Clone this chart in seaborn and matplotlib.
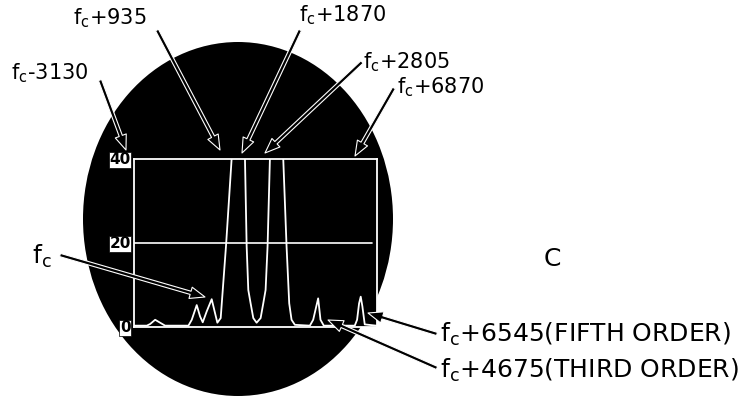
import matplotlib
matplotlib.use("Agg")
import matplotlib.pyplot as plt
import seaborn as sns
import pandas as pd
from matplotlib.patches import Ellipse

# spectrum trace (offset from fc in Hz, level in dB)
freq_offset = [-3129, -2581, -2444, -2239, -2034, -1829, -870, -733, -528, -391,
               -281, -117, 88, 225, 321, 458, 677, 909, 1183, 1457,
               1526, 1594, 1690, 1800, 1936, 2101, 2210, 2306, 2388, 2484,
               2758, 3032, 3168, 3278, 3374, 3511, 4127, 4264, 4469, 4565,
               4702, 5975, 6071, 6153, 6221, 6289, 6386, 6865]
level_db = [0.2, 0.2, 0.6, 1.6, 0.9, 0.2, 0.2, 1.6, 5.1, 2.4,
            1.0, 3.6, 6.5, 3.2, 0.9, 2.0, 19.2, 40, 46, 40,
            19.2, 8.7, 5.5, 2.0, 0.9, 2.0, 5.5, 8.7, 19.2, 40,
            46, 40, 19.2, 5.5, 1.6, 0.4, 0.2, 1.6, 6.7, 1.6,
            0.2, 0.2, 1.6, 5.5, 7.1, 4.8, 0.5, 0.2]
y_ticks = [0, 20, 40]
x_range = [-3130, 6870]

# callouts: label, text centre (px), arrow tail (px), arrow tip (px)
callouts = [
    (r"$\mathrm{f}_\mathrm{c}$-3130", (50, 73), (100, 80), (126, 150)),
    (r"$\mathrm{f}_\mathrm{c}$+935", (110, 18), (157, 30), (220, 150)),
    (r"$\mathrm{f}_\mathrm{c}$+1870", (343, 15), (300, 30), (242, 153)),
    (r"$\mathrm{f}_\mathrm{c}$+2805", (406, 62), (362, 62), (265, 153)),
    (r"$\mathrm{f}_\mathrm{c}$+6870", (441, 87), (394, 88), (355, 156)),
]

W, H = 744, 400


def fp(x, y):
    return (x / W, 1 - y / H)


sns.set_style("white")
plt.rcParams["font.family"] = ["DejaVu Sans"]
plt.rcParams["mathtext.fontset"] = "dejavusans"
plt.rcParams["text.color"] = "black"

fig = plt.figure(figsize=(W / 100, H / 100), dpi=100)
fig.patch.set_facecolor("white")

disc = Ellipse(fp(238, 219), 310 / W, 354 / H, transform=fig.transFigure,
               facecolor="black", edgecolor="none", zorder=-1)
fig.patches.append(disc)

ax = fig.add_axes([133.5 / W, 1 - 326.5 / H, 243 / W, 168 / H])
ax.set_zorder(1)
ax.set_facecolor("black")
df = pd.DataFrame({"freq": freq_offset, "level": level_db})
sns.lineplot(data=df, x="freq", y="level", ax=ax, color="white", lw=1.3,
             estimator=None, sort=False)
ax.axhline(20, color="white", lw=1.2, xmax=0.98)
ax.set_xlim(x_range)
ax.set_ylim(0, 40)
ax.set_xlabel("")
ax.set_ylabel("")
ax.set_xticks([])
ax.set_yticks(y_ticks)
ax.set_yticklabels([str(v) for v in y_ticks], fontsize=11, fontweight="bold")
ax.tick_params(axis="y", length=0, pad=2, labelcolor="black")
for t in ax.get_yticklabels():
    t.set_bbox(dict(facecolor="white", edgecolor="black", pad=0.6, lw=0.5))
for s in ax.spines.values():
    s.set_color("white")
    s.set_linewidth(1.3)

arrow_kw = dict(arrowstyle="simple,head_length=0.9,head_width=0.7,tail_width=0.2",
                fc="black", ec="white", lw=0.8, mutation_scale=12,
                shrinkA=0, shrinkB=0)

for label, tpos, tail, tip in callouts:
    fig.text(*fp(*tpos), label, fontsize=15, ha="center", va="center")
    ax.annotate("", xy=fp(*tip), xycoords="figure fraction",
                xytext=fp(*tail), textcoords="figure fraction",
                arrowprops=arrow_kw, annotation_clip=False)

# carrier and harmonic callouts
fig.text(*fp(42, 256), r"$\mathrm{f}_\mathrm{c}$", fontsize=18, ha="center", va="center")
ax.annotate("", xy=fp(205, 297), xycoords="figure fraction",
            xytext=fp(60, 255), textcoords="figure fraction",
            arrowprops=arrow_kw, annotation_clip=False)

fig.text(*fp(552, 259), "C", fontsize=18, ha="center", va="center")

fig.text(*fp(440, 334), r"$\mathrm{f}_\mathrm{c}$+6545(FIFTH ORDER)",
         fontsize=18, ha="left", va="center")
ax.annotate("", xy=fp(368, 313), xycoords="figure fraction",
            xytext=fp(437, 334), textcoords="figure fraction",
            arrowprops=arrow_kw, annotation_clip=False)

fig.text(*fp(440, 370), r"$\mathrm{f}_\mathrm{c}$+4675(THIRD ORDER)",
         fontsize=18, ha="left", va="center")
ax.annotate("", xy=fp(328, 320), xycoords="figure fraction",
            xytext=fp(437, 368), textcoords="figure fraction",
            arrowprops=arrow_kw, annotation_clip=False)

fig.savefig("out.png", dpi=100, facecolor="white")
